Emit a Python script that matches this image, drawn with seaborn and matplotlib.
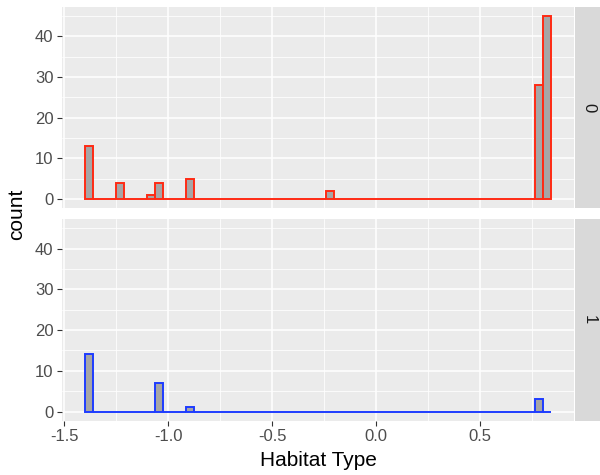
import matplotlib
matplotlib.use("Agg")
import matplotlib.pyplot as plt
from matplotlib.patches import Rectangle
import numpy as np
import pandas as pd
import seaborn as sns

# Distinct habitat-type values (standardised scale) and how many records fall on each
habitat_values = [-1.380, -1.231, -1.082, -1.044, -0.895, -0.224, 0.783, 0.820]
counts_group0 = [13, 4, 1, 4, 5, 2, 28, 45]
counts_group1 = [14, 0, 0, 7, 1, 0, 3, 0]
group_labels = ["0", "1"]
outline_colors = ["#FF2A14", "#1E3CFF"]

df = pd.concat([
    pd.DataFrame({"habitat": habitat_values, "n": counts_group0, "group": "0"}),
    pd.DataFrame({"habitat": habitat_values, "n": counts_group1, "group": "1"}),
], ignore_index=True)

n_bins = 60
bin_lo, bin_hi = -1.399, 0.839
span = bin_hi - bin_lo
xlim = (bin_lo - 0.05 * span, bin_hi + 0.05 * span)
ymax = max(counts_group0 + counts_group1)
ylim = (-0.05 * ymax, 1.05 * ymax)

sns.set_theme(style="darkgrid")
plt.rcParams["font.family"] = ["Liberation Sans", "DejaVu Sans"]

W, H = 600, 475
fig = plt.figure(figsize=(W / 100, H / 100), dpi=100)

def fx(px):
    return px / W

def fy(py):
    return 1 - py / H

panels = [(7, 208.3), (219, 420.7)]
left_px, right_px = 62, 574

axes = []
for i, (top, bottom) in enumerate(panels):
    ax = fig.add_axes([fx(left_px), fy(bottom), fx(right_px - left_px), fy(top) - fy(bottom)])
    axes.append(ax)
    sub = df[df["group"] == group_labels[i]]
    sns.histplot(
        data=sub, x="habitat", weights="n", bins=n_bins, binrange=(bin_lo, bin_hi),
        stat="count", element="bars", fill=True, color="#A6A6A6", alpha=1.0,
        edgecolor=outline_colors[i], linewidth=1.4, ax=ax, zorder=3,
    )
    ax.set_facecolor("#EBEBEB")
    ax.set_xlim(*xlim)
    ax.set_ylim(*ylim)
    ax.set_xticks([-1.5, -1.0, -0.5, 0.0, 0.5])
    ax.set_xticks([-1.25, -0.75, -0.25, 0.25, 0.75], minor=True)
    ax.set_yticks([0, 10, 20, 30, 40])
    ax.set_yticks([5, 15, 25, 35, 45], minor=True)
    ax.grid(which="major", color="white", linewidth=1.1, zorder=0)
    ax.grid(which="minor", color="white", linewidth=0.55, zorder=0)
    ax.set_axisbelow(True)
    for s in ax.spines.values():
        s.set_visible(False)
    ax.tick_params(axis="both", which="major", bottom=True, left=True, length=3.7,
                   width=0.8, color="#333333", labelcolor="#4D4D4D", labelsize=12, pad=2.5)
    ax.tick_params(axis="both", which="minor", length=0)
    ax.set_xlabel("")
    ax.set_ylabel("")
    if i == 0:
        ax.tick_params(axis="x", which="major", bottom=False, labelbottom=False)
    else:
        ax.set_xticklabels(["-1.5", "-1.0", "-0.5", "0.0", "0.5"])

    # facet strip on the right
    fig.add_artist(Rectangle((fx(574.5), fy(bottom)), fx(600 - 574.5), fy(top) - fy(bottom),
                             transform=fig.transFigure, facecolor="#D9D9D9", edgecolor="none"))
    fig.text(fx(589), (fy(top) + fy(bottom)) / 2, group_labels[i], rotation=270,
             ha="center", va="center", fontsize=12, color="#1A1A1A")

fig.text(fx(17), fy(214), "count", rotation=90, ha="center", va="center",
         fontsize=15, color="black")
fig.text(fx(318), fy(461), "Habitat Type", ha="center", va="center",
         fontsize=15, color="black")

fig.savefig("out.png", dpi=100, facecolor="white")
